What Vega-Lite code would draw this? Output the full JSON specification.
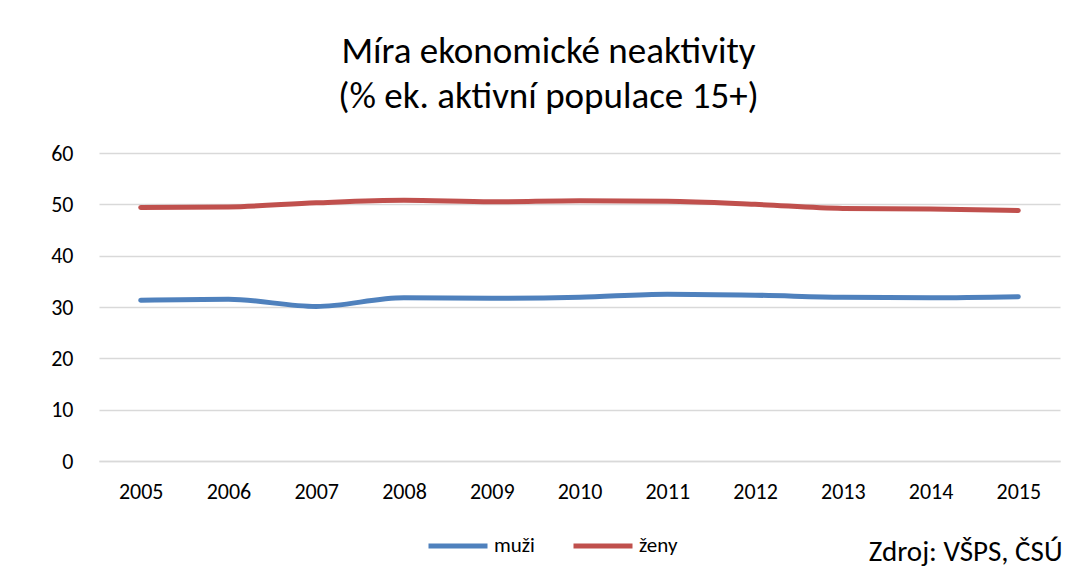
{
  "$schema": "https://vega.github.io/schema/vega-lite/v6.json",
  "width": 961,
  "height": 308,
  "autosize": {"type": "none"},
  "padding": {"left": 99, "top": 153, "right": 26, "bottom": 120},
  "background": "white",
  "title": {
    "text": ["Míra ekonomické neaktivity", "(% ek. aktivní populace 15+)"],
    "fontSize": 37,
    "font": "Carlito, Liberation Sans, sans-serif",
    "fontWeight": "normal",
    "color": "#000000",
    "anchor": "middle",
    "dx": -31,
    "lineHeight": 45,
    "offset": 26
  },
  "config": {
    "view": {"stroke": null},
    "font": "Carlito, Liberation Sans, sans-serif"
  },
  "data": {
    "values": [
      {"rok": "2005", "pohlavi": "muži", "hodnota": 31.3},
      {"rok": "2006", "pohlavi": "muži", "hodnota": 31.5},
      {"rok": "2007", "pohlavi": "muži", "hodnota": 30.1},
      {"rok": "2008", "pohlavi": "muži", "hodnota": 31.8},
      {"rok": "2009", "pohlavi": "muži", "hodnota": 31.7},
      {"rok": "2010", "pohlavi": "muži", "hodnota": 31.9},
      {"rok": "2011", "pohlavi": "muži", "hodnota": 32.5},
      {"rok": "2012", "pohlavi": "muži", "hodnota": 32.3},
      {"rok": "2013", "pohlavi": "muži", "hodnota": 31.9},
      {"rok": "2014", "pohlavi": "muži", "hodnota": 31.8},
      {"rok": "2015", "pohlavi": "muži", "hodnota": 32.0},
      {"rok": "2005", "pohlavi": "ženy", "hodnota": 49.4},
      {"rok": "2006", "pohlavi": "ženy", "hodnota": 49.5},
      {"rok": "2007", "pohlavi": "ženy", "hodnota": 50.3},
      {"rok": "2008", "pohlavi": "ženy", "hodnota": 50.8},
      {"rok": "2009", "pohlavi": "ženy", "hodnota": 50.5},
      {"rok": "2010", "pohlavi": "ženy", "hodnota": 50.7},
      {"rok": "2011", "pohlavi": "ženy", "hodnota": 50.6},
      {"rok": "2012", "pohlavi": "ženy", "hodnota": 50.0},
      {"rok": "2013", "pohlavi": "ženy", "hodnota": 49.2},
      {"rok": "2014", "pohlavi": "ženy", "hodnota": 49.1},
      {"rok": "2015", "pohlavi": "ženy", "hodnota": 48.8}
    ]
  },
  "mark": {"type": "line", "strokeWidth": 5, "strokeCap": "round", "strokeJoin": "round", "interpolate": "monotone"},
  "encoding": {
    "x": {
      "field": "rok",
      "type": "ordinal",
      "scale": {"type": "point", "padding": 0.475},
      "axis": {
        "title": "Zdroj: VŠPS, ČSÚ",
        "titleFontSize": 29,
        "titleFontWeight": "normal",
        "titleColor": "#000000",
        "titleAnchor": "end",
        "titleAlign": "right",
        "titleBaseline": "alphabetic",
        "titleY": 99,
        "titleX": 963,
        "labelAngle": 0,
        "labelFontSize": 22,
        "labelColor": "#000000",
        "labelPadding": 20,
        "ticks": false,
        "domainColor": "#d9d9d9",
        "domainWidth": 1.5,
        "grid": false
      }
    },
    "y": {
      "field": "hodnota",
      "type": "quantitative",
      "scale": {"domain": [0, 60]},
      "axis": {
        "title": null,
        "values": [0, 10, 20, 30, 40, 50, 60],
        "labelFontSize": 22,
        "labelColor": "#000000",
        "labelPadding": 26,
        "ticks": false,
        "domain": false,
        "gridColor": "#d9d9d9",
        "gridWidth": 1.5
      }
    },
    "color": {
      "field": "pohlavi",
      "type": "nominal",
      "scale": {"domain": ["muži", "ženy"], "range": ["#4f81bd", "#c0504d"]},
      "legend": {
        "title": null,
        "orient": "none",
        "direction": "horizontal",
        "legendX": 327,
        "legendY": 361,
        "symbolType": "stroke",
        "symbolSize": 3481,
        "symbolStrokeWidth": 5,
        "labelFontSize": 21,
        "labelColor": "#000000",
        "labelOffset": 4,
        "columnPadding": 28
      }
    }
  }
}
